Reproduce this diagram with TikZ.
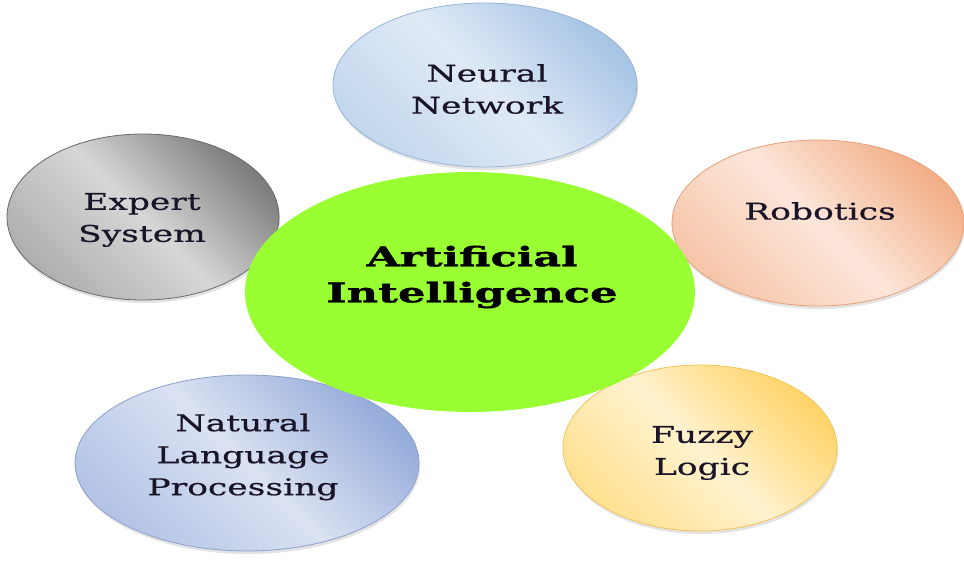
\documentclass[tikz,border=0pt]{standalone}
\usepackage{fontspec}
\newfontfamily\lblfont{DejaVu Serif}[FakeStretch=1.5,FakeBold=0.6]
\newfontfamily\aifont{DejaVu Serif}[FakeStretch=1.6,BoldFeatures={FakeBold=1.5}]
\usetikzlibrary{shapes.geometric,shadows}
\definecolor{aigreen}{RGB}{153,255,51}
\definecolor{txtcol}{RGB}{25,20,40}
\definecolor{nnA}{RGB}{168,197,230}\definecolor{nnB}{RGB}{195,215,238}\definecolor{nnC}{RGB}{224,234,246}\definecolor{nnD}{RGB}{150,180,215}
\definecolor{rbA}{RGB}{242,175,135}\definecolor{rbB}{RGB}{246,198,170}\definecolor{rbC}{RGB}{252,230,218}\definecolor{rbD}{RGB}{232,160,120}
\definecolor{nlA}{RGB}{150,172,218}\definecolor{nlB}{RGB}{180,196,230}\definecolor{nlC}{RGB}{218,226,242}\definecolor{nlD}{RGB}{140,160,205}
\definecolor{fzA}{RGB}{255,212,105}\definecolor{fzB}{RGB}{255,225,145}\definecolor{fzC}{RGB}{255,242,207}\definecolor{fzD}{RGB}{242,195,90}
\definecolor{exA}{RGB}{125,125,125}\definecolor{exB}{RGB}{175,175,175}\definecolor{exC}{RGB}{215,215,215}\definecolor{exD}{RGB}{105,105,105}
\begin{document}
\begin{tikzpicture}[x=1pt,y=-1pt,
  bub/.style={ellipse, line width=0.8pt, inner sep=0pt,
    drop shadow={opacity=0.22, shadow xshift=1pt, shadow yshift=-3pt}},
  grad/.style n args={3}{top color=#1, bottom color=#2, middle color=#3, shading angle=-45},
  txt/.style={font=\lblfont\fontsize{23}{32}\selectfont, align=center, text=txtcol, inner sep=0pt},
  bigtxt/.style={font=\aifont\bfseries\fontsize{27}{36}\selectfont, align=center, text=black, inner sep=0pt}]
\useasboundingbox (0,0) rectangle (964,561);
% outer ellipses
\node[bub, minimum width=272pt, minimum height=166pt, draw=exD, grad={exA}{exB}{exC}] (expert) at (143,217) {};
\node[bub, minimum width=304pt, minimum height=164pt, draw=nnD, grad={nnA}{nnB}{nnC}] (neural) at (485,85) {};
\node[bub, minimum width=292pt, minimum height=166pt, draw=rbD, grad={rbA}{rbB}{rbC}] (robot) at (818,223) {};
\node[bub, minimum width=344pt, minimum height=176pt, draw=nlD, grad={nlA}{nlB}{nlC}] (nlp) at (247,463) {};
\node[bub, minimum width=274pt, minimum height=166pt, draw=fzD, grad={fzA}{fzB}{fzC}] (fuzzy) at (700,448) {};
% central ellipse
\node[ellipse, minimum width=450pt, minimum height=240pt, fill=aigreen, inner sep=0pt] (ai) at (470,292) {};
% labels
\node[txt] (tneural) at (487,89) {Neural\\Network};
\node[txt] (texpert) at (142,220) {Expert\\System};
\node[txt] (trobot) at (820,211) {Robotics};
\node[txt] (tnlp) at (243,457) {Natural\\Language\\Processing};
\node[txt] (tfuzzy) at (702,453) {Fuzzy\\Logic};
\node[bigtxt] (tai) at (472,277) {Artificial\\Intelligence};
\end{tikzpicture}
\end{document}
